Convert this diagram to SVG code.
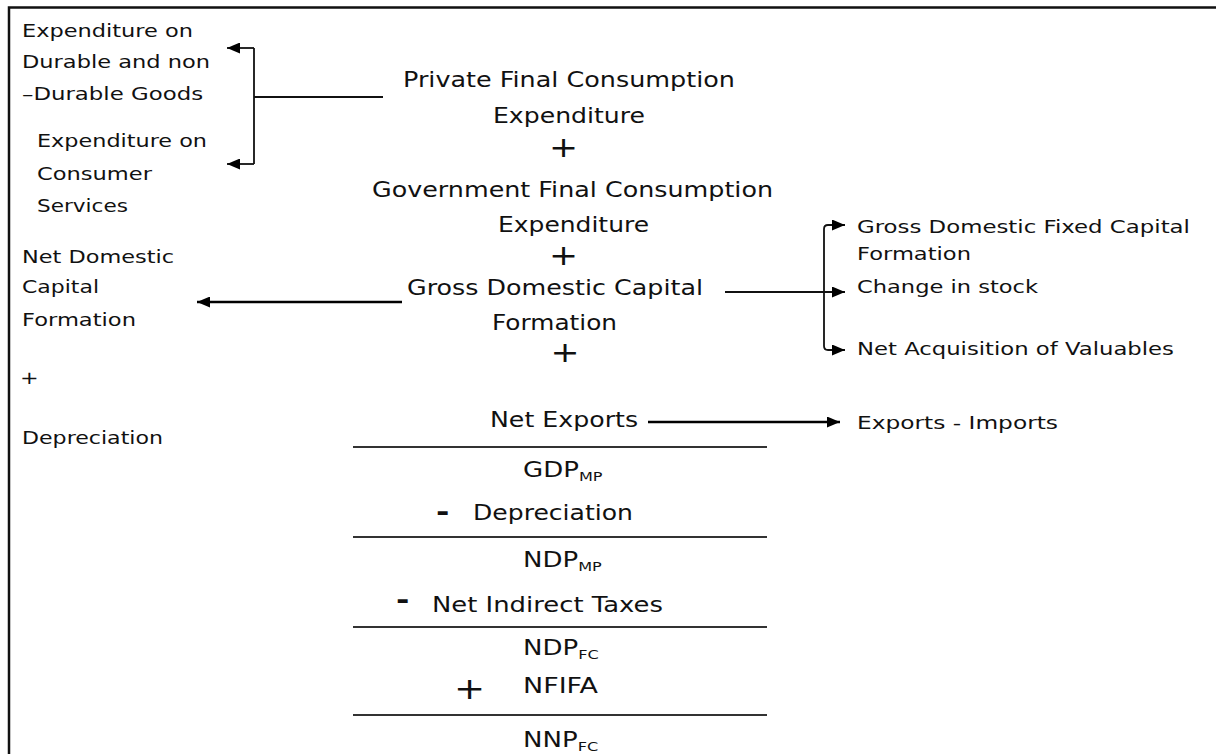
<svg xmlns="http://www.w3.org/2000/svg" width="1216" height="754" viewBox="0 0 1216 754">
<style>
text{font-family:"DejaVu Sans","Verdana",sans-serif;fill:#111}
.c{font-size:21px}
.s{font-size:18px}
.sub{font-size:13px}
.pl{font-size:28px}
.dash{font-size:26px;font-weight:bold}
.ln{stroke:#111;fill:none;stroke-width:1.8}
.th{stroke:#000;fill:none;stroke-width:2.6}
.rule{stroke:#333;stroke-width:2}
</style>
<defs>
<marker id="ah" markerUnits="userSpaceOnUse" markerWidth="13" markerHeight="11" viewBox="0 0 13 11" refX="13" refY="5.5" orient="auto">
<path d="M0,0 L13,5.5 L0,11 z" fill="#000"/>
</marker>
</defs>
<rect width="1216" height="754" fill="#fff"/>
<path d="M9,754 V7.5 H1216" fill="none" stroke="#111" stroke-width="2.5"/>

<g id="connectors">
<path class="ln" d="M383,97 H254"/>
<path class="ln" d="M254,48 V164"/>
<path class="ln" d="M254,48 H227" marker-end="url(#ah)"/>
<path class="ln" d="M254,164 H227" marker-end="url(#ah)"/>
<path class="th" d="M402,302 H197" marker-end="url(#ah)"/>
<path class="ln" d="M725,292 H845" marker-end="url(#ah)"/>
<path class="ln" d="M824,292 V229 Q824,225 828,225 H845" marker-end="url(#ah)"/>
<path class="ln" d="M824,292 V346 Q824,350 828,350 H845" marker-end="url(#ah)"/>
<path class="th" d="M648,422 H840" marker-end="url(#ah)"/>
<line class="rule" x1="353" y1="447" x2="767" y2="447"/>
<line class="rule" x1="353" y1="537" x2="767" y2="537"/>
<line class="rule" x1="353" y1="627" x2="767" y2="627"/>
<line class="rule" x1="353" y1="715" x2="767" y2="715"/>
</g>

<g id="durable">
<text class="s" transform="translate(22 37) scale(1.24 1)" textLength="137.9" lengthAdjust="spacingAndGlyphs">Expenditure on</text>
<text class="s" transform="translate(22 68) scale(1.24 1)" textLength="151.6" lengthAdjust="spacingAndGlyphs">Durable and non</text>
<text class="s" transform="translate(22 100) scale(1.24 1)" textLength="146" lengthAdjust="spacingAndGlyphs">–Durable Goods</text>
</g>
<g id="services">
<text class="s" transform="translate(37 147) scale(1.24 1)" textLength="137.1" lengthAdjust="spacingAndGlyphs">Expenditure on</text>
<text class="s" transform="translate(37 180) scale(1.24 1)" textLength="92.7" lengthAdjust="spacingAndGlyphs">Consumer</text>
<text class="s" transform="translate(37 212) scale(1.24 1)" textLength="73.4" lengthAdjust="spacingAndGlyphs">Services</text>
</g>
<g id="ndcf">
<text class="s" transform="translate(22 263) scale(1.24 1)" textLength="122.6" lengthAdjust="spacingAndGlyphs">Net Domestic</text>
<text class="s" transform="translate(22 293) scale(1.24 1)" textLength="62.1" lengthAdjust="spacingAndGlyphs">Capital</text>
<text class="s" transform="translate(22 326) scale(1.24 1)" textLength="91.9" lengthAdjust="spacingAndGlyphs">Formation</text>
<text class="s" transform="translate(20 384) scale(1.24 1)">+</text>
<text class="s" transform="translate(22 444) scale(1.24 1)" textLength="113.7" lengthAdjust="spacingAndGlyphs">Depreciation</text>
</g>

<g id="pfce">
<text class="c" transform="translate(403 87) scale(1.24 1)" textLength="267.7" lengthAdjust="spacingAndGlyphs">Private Final Consumption</text>
<text class="c" transform="translate(493 123) scale(1.24 1)" textLength="122.6" lengthAdjust="spacingAndGlyphs">Expenditure</text>
<text class="pl" transform="translate(563.5 157) scale(1.24 1)" text-anchor="middle">+</text>
</g>
<g id="gfce">
<text class="c" transform="translate(372 197) scale(1.24 1)" textLength="323.4" lengthAdjust="spacingAndGlyphs">Government Final Consumption</text>
<text class="c" transform="translate(498 232) scale(1.24 1)" textLength="121.8" lengthAdjust="spacingAndGlyphs">Expenditure</text>
<text class="pl" transform="translate(563.5 265) scale(1.24 1)" text-anchor="middle">+</text>
</g>
<g id="gdcf">
<text class="c" transform="translate(407 295) scale(1.24 1)" textLength="238.7" lengthAdjust="spacingAndGlyphs">Gross Domestic Capital</text>
<text class="c" transform="translate(492 330) scale(1.24 1)" textLength="100.8" lengthAdjust="spacingAndGlyphs">Formation</text>
<text class="pl" transform="translate(565 362) scale(1.24 1)" text-anchor="middle">+</text>
</g>
<g id="netexports">
<text class="c" transform="translate(490 427) scale(1.24 1)" textLength="119.4" lengthAdjust="spacingAndGlyphs">Net Exports</text>
</g>
<g id="gdpmp">
<text class="c" transform="translate(523 477) scale(1.24 1)">GDP<tspan class="sub" dy="4">MP</tspan></text>
</g>
<g id="dep">
<text class="dash" transform="translate(436 521) scale(1.24 1)">-</text>
<text class="c" transform="translate(473 520) scale(1.24 1)" textLength="129" lengthAdjust="spacingAndGlyphs">Depreciation</text>
</g>
<g id="ndpmp">
<text class="c" transform="translate(523 567) scale(1.24 1)">NDP<tspan class="sub" dy="4">MP</tspan></text>
</g>
<g id="nit">
<text class="dash" transform="translate(396 609) scale(1.24 1)">-</text>
<text class="c" transform="translate(432 612) scale(1.24 1)" textLength="186.3" lengthAdjust="spacingAndGlyphs">Net Indirect Taxes</text>
</g>
<g id="ndpfc">
<text class="c" transform="translate(523 655) scale(1.24 1)">NDP<tspan class="sub" dy="4">FC</tspan></text>
</g>
<g id="nfifa">
<text class="pl" style="font-size:30px" transform="translate(469.5 699) scale(1.24 1)" text-anchor="middle">+</text>
<text class="c" transform="translate(523 693) scale(1.24 1)" textLength="60.5" lengthAdjust="spacingAndGlyphs">NFIFA</text>
</g>
<g id="nnpfc">
<text class="c" transform="translate(523 747) scale(1.24 1)">NNP<tspan class="sub" dy="4">FC</tspan></text>
</g>

<g id="gdfcf">
<text class="s" transform="translate(857 233) scale(1.24 1)" textLength="268.5" lengthAdjust="spacingAndGlyphs">Gross Domestic Fixed Capital</text>
<text class="s" transform="translate(857 260) scale(1.24 1)" textLength="91.9" lengthAdjust="spacingAndGlyphs">Formation</text>
</g>
<g id="stock">
<text class="s" transform="translate(857 293) scale(1.24 1)" textLength="146" lengthAdjust="spacingAndGlyphs">Change in stock</text>
</g>
<g id="valuables">
<text class="s" transform="translate(857 355) scale(1.24 1)" textLength="255.6" lengthAdjust="spacingAndGlyphs">Net Acquisition of Valuables</text>
</g>
<g id="eximp">
<text class="s" transform="translate(857 429) scale(1.24 1)" textLength="162.1" lengthAdjust="spacingAndGlyphs">Exports - Imports</text>
</g>
</svg>
